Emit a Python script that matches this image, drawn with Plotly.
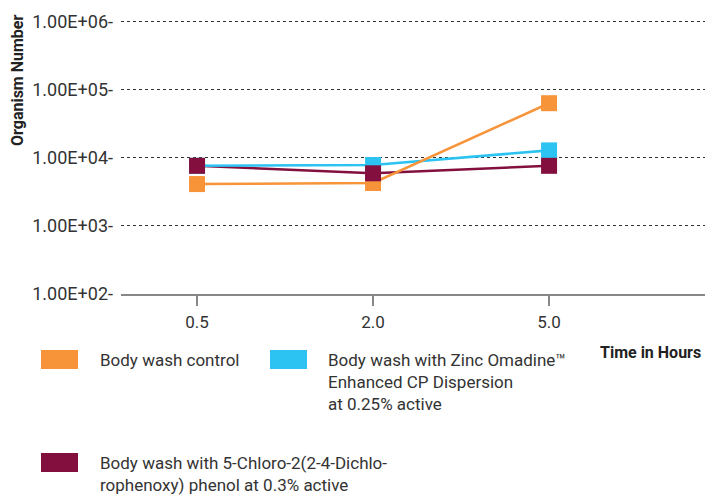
import plotly.graph_objects as go

# ---- data ----
time_labels = ["0.5", "2.0", "5.0"]
control = [4100, 4250, 63000]
zinc_omadine = [7600, 7800, 12800]
chloro_phenol = [7600, 5900, 7600]

y_tick_vals = [1e2, 1e3, 1e4, 1e5, 1e6]
y_tick_text = ["1.00E+02-", "1.00E+03-", "1.00E+04-", "1.00E+05-", "1.00E+06-"]

series_names = [
    "Body wash control",
    "Body wash with Zinc Omadine™<br>Enhanced CP Dispersion<br>at 0.25% active",
    "Body wash with 5-Chloro-2(2-4-Dichlo-<br>rophenoxy) phenol at 0.3% active",
]
colors = ["#F7943A", "#2CC3F2", "#830F3F"]
series_values = [control, zinc_omadine, chloro_phenol]

FONT = "Roboto, Lato, sans-serif"
W, H = 705, 499
L, R, T = 121, 0, 20
B = H - 294
PW, PH = W - L - R, H - T - B

def px(x):
    return (x - L) / PW

def py(y):
    return (H - B - y) / PH

xidx = list(range(len(time_labels)))

fig = go.Figure()
# lines first
for i in [2, 1, 0]:
    fig.add_trace(go.Scatter(x=xidx, y=series_values[i], mode="lines",
                             line=dict(color=colors[i], width=2.6),
                             showlegend=False, hoverinfo="skip"))
# markers on top
for i in [0, 1, 2]:
    fig.add_trace(go.Scatter(x=xidx, y=series_values[i], mode="markers",
                             marker=dict(symbol="square", size=16, color=colors[i], line=dict(width=0)),
                             name=series_names[i], showlegend=False))

fig.update_layout(
    width=W, height=H,
    margin=dict(l=L, r=R, t=T, b=B, pad=0),
    paper_bgcolor="white", plot_bgcolor="white",
    font=dict(family=FONT, size=17, color="#333333"),
    showlegend=False,
)
fig.update_xaxes(
    range=[-0.432, 2.886], tickvals=xidx, ticktext=time_labels,
    showgrid=False, zeroline=False,
    showline=True, linecolor="#888888", linewidth=1.5,
    ticks="outside", ticklen=10, tickwidth=1.5, tickcolor="#888888",
    ticklabelstandoff=2,
    tickfont=dict(size=17, color="#333333"),
)
fig.update_yaxes(
    type="log", range=[2, 6.02],
    tickvals=y_tick_vals, ticktext=y_tick_text,
    showgrid=True, gridcolor="#333333", griddash="3px,3px", gridwidth=1,
    zeroline=False, showline=False, ticks="",
    ticklabelstandoff=7,
    tickfont=dict(size=18, color="#333333"),
)

ann = []
shapes = []
# y title
ann.append(dict(x=px(17), y=py(81), xref="paper", yref="paper", text="<b>Organism Number</b>",
                textangle=-90, showarrow=False, xanchor="center", yanchor="middle",
                font=dict(size=16, color="#222222", family=FONT)))
# x title
ann.append(dict(x=px(703), y=py(352), xref="paper", yref="paper", text="<b>Time in Hours</b>",
                showarrow=False, xanchor="right", yanchor="middle",
                font=dict(size=16, color="#222222", family=FONT)))

legend_pos = [(41, 350, 98), (270, 350, 326), (41, 453, 98)]
for i, (sx, sy, tx) in enumerate(legend_pos):
    shapes.append(dict(type="rect", xref="paper", yref="paper",
                       x0=px(sx), x1=px(sx + 37), y0=py(sy), y1=py(sy + 19),
                       fillcolor=colors[i], line=dict(width=0)))
    ann.append(dict(x=px(tx), y=py(sy - 2), xref="paper", yref="paper", text=series_names[i],
                    showarrow=False, xanchor="left", yanchor="top", align="left",
                    font=dict(size=17, color="#333333", family=FONT)))

fig.update_layout(annotations=ann, shapes=shapes)
fig.write_html("out.html", config={"displayModeBar": False},
               post_script="document.body.style.margin='0';document.body.style.overflow='hidden';")
